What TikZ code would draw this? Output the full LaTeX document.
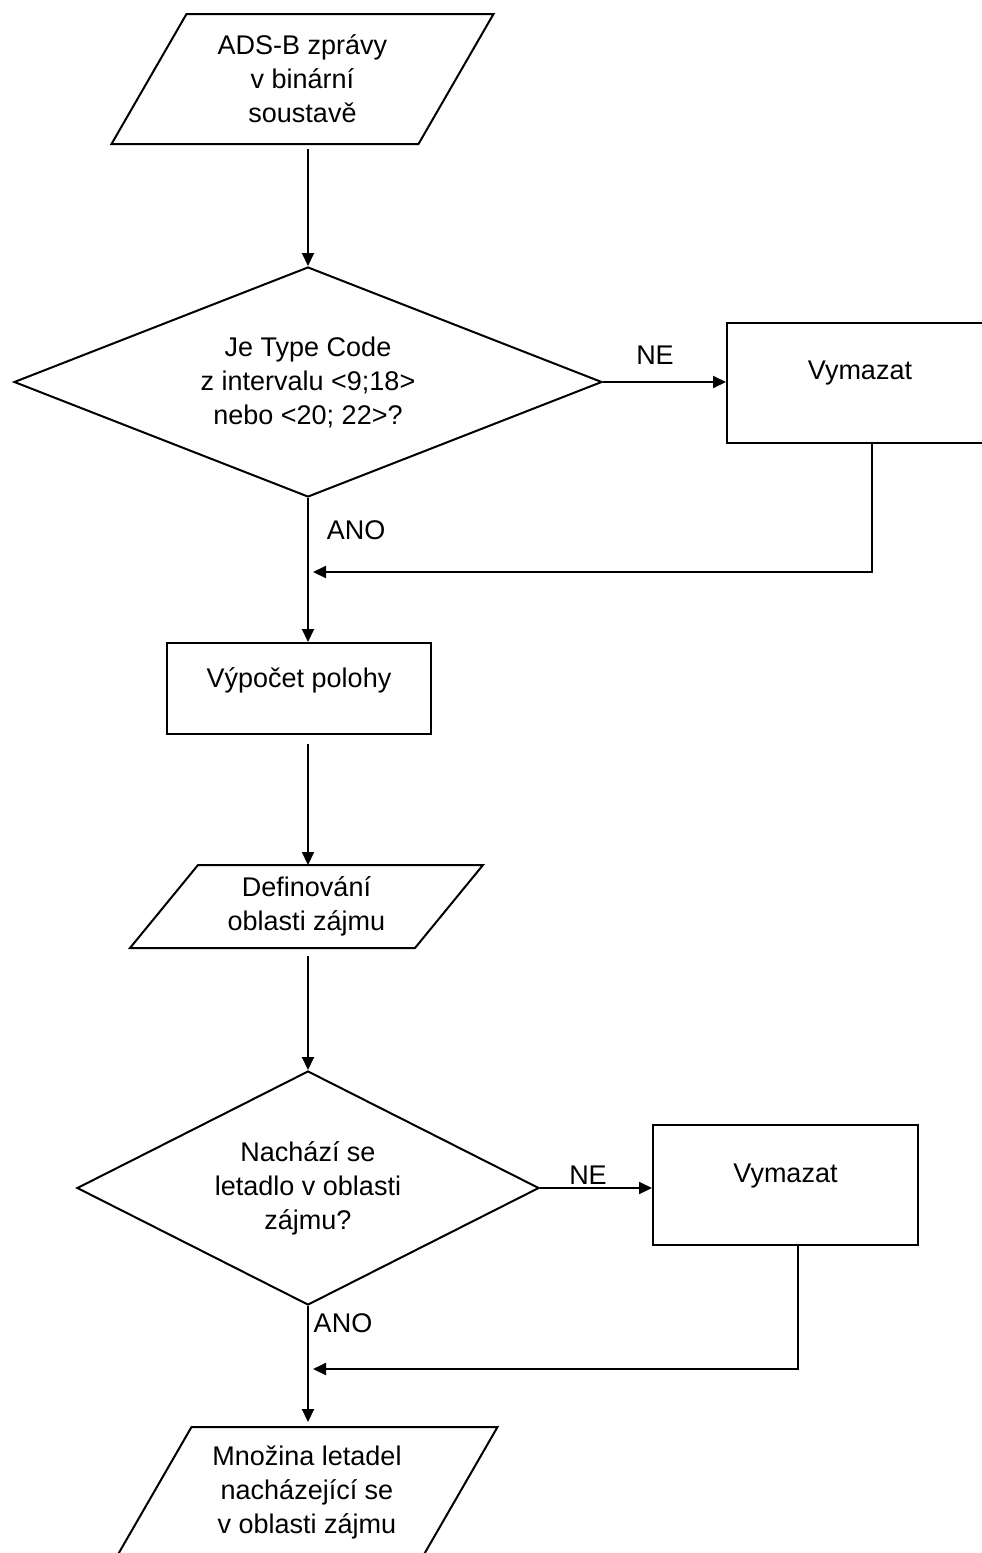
\documentclass[tikz,border=0pt]{standalone}
\usepackage{fontspec}
\setmainfont{Liberation Sans}
\usetikzlibrary{shapes.geometric,arrows.meta}
\tikzset{
  box/.style={draw,rectangle,minimum width=132.5pt,minimum height=60pt,inner sep=0pt},
  decision/.style={draw,diamond,inner sep=0pt,align=center},
  data/.style={rectangle,inner sep=0pt,align=center},
  lbl/.style={inner sep=0pt}
}
\newcommand{\liftup}[2]{\raisebox{#1}[\height][\depth]{#2}}
% slanted frame round a data node: name, half of the slant
\newcommand{\slantframe}[2]{%
  \draw ([xshift=-#2]#1.south west) -- ([xshift=#2]#1.north west)
     -- ([xshift=#2]#1.north east) -- ([xshift=-#2]#1.south east) -- cycle;}
\begin{document}
\begin{tikzpicture}[x=0.5pt,y=-0.5pt,line width=1pt,>={Triangle[length=6.5pt,width=6pt]},font=\fontsize{13.5}{17}\selectfont]
\useasboundingbox (0,0) rectangle (981,1553);
\node[data,minimum width=152.5pt,minimum height=64pt] (msgs) at (302.5,79) {ADS-B zprávy\\v binární\\soustavě};
\node[decision,aspect=2.5,minimum width=294pt,minimum height=115pt] (tc) at (308,382) {Je Type Code\\z intervalu <9;18>\\nebo <20; 22>?};
\node[box,minimum width=133pt] (del1) at (860,383) {\liftup{5pt}{Vymazat}};
\node[box,minimum width=132pt,minimum height=45.5pt] (calc) at (299,688.5) {\liftup{4.25pt}{Výpočet polohy}};
\node[data,minimum width=141.5pt,minimum height=40.5pt] (area) at (306.5,906.5) {Definování\\oblasti zájmu};
\node[decision,aspect=2,minimum width=231pt,minimum height=117pt] (inarea) at (308,1188) {Nachází se\\letadlo v oblasti\\zájmu?};
\node[box] (del2) at (785.5,1185) {\liftup{4.5pt}{Vymazat}};
\node[data,minimum width=152pt,minimum height=64pt] (result) at (307,1492) {Množina letadel\\nacházející se\\v oblasti zájmu};
\slantframe{msgs}{18.75pt}
\slantframe{area}{17pt}
\slantframe{result}{18.75pt}
% branch labels
\node[lbl] (no1)  at (655,355)  {NE};
\node[lbl] (yes1) at (356,530)  {ANO};
\node[lbl] (no2)  at (588,1175) {NE};
\node[lbl] (yes2) at (343,1323) {ANO};
\coordinate (join1) at (308,572);
\coordinate (join2) at (308,1369);
% connectors
\draw[->,shorten <=2.5pt] (msgs.south -| tc.north) -- (tc.north);
\draw[->] (tc.east) -- (tc.east -| del1.west);
\draw[->,shorten >=2.5pt] ([xshift=6pt]del1.south) |- (join1);
\draw[->] (tc.south) -- (tc.south |- calc.north);
\draw[->,shorten <=4.5pt] (calc.south -| tc.south) -- (area.north -| tc.south);
\draw[->,shorten <=4pt] (area.south -| tc.south) -- (inarea.north);
\draw[->] (inarea.east) -- (inarea.east -| del2.west);
\draw[->,shorten >=2.5pt] ([xshift=6.25pt]del2.south) |- (join2);
\draw[->,shorten >=2.5pt] (inarea.south) -- (inarea.south |- result.north);
\end{tikzpicture}
\end{document}
